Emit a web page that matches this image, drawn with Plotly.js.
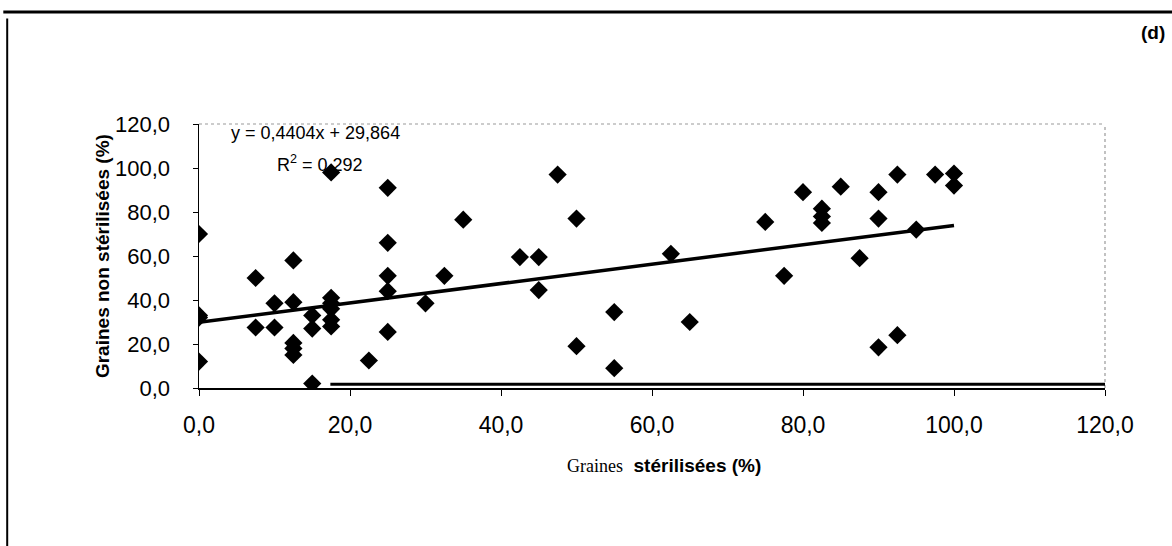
<!DOCTYPE html>
<html>
<head>
<meta charset="utf-8">
<script src="https://cdn.plot.ly/plotly-3.0.1.min.js"></script>
<style>html,body{margin:0;padding:0;background:#fff;}#chart{width:1172px;height:546px;}</style>
</head>
<body>
<div id="chart"></div>
<script>
// Data: % germination, sterilized seeds (x) vs non-sterilized seeds (y)
const sterilisees = [0, 0, 0, 0, 7.5, 7.5, 10, 10, 12.5, 12.5, 12.5, 12.5, 12.5, 15, 15, 15,
  17.5, 17.5, 17.5, 17.5, 17.5, 17.5, 22.5, 25, 25, 25, 25, 25, 30, 32.5, 35,
  42.5, 45, 45, 47.5, 50, 50, 55, 55, 62.5, 65, 75, 77.5, 80, 82.5, 82.5, 82.5,
  85, 87.5, 90, 90, 90, 92.5, 92.5, 95, 97.5, 100, 100];
const nonSterilisees = [70, 33, 32, 12, 50, 27.5, 38.5, 27.5, 58, 39, 20.5, 18, 15, 33, 27, 2,
  41, 38.5, 36, 31, 28, 98, 12.5, 91, 66, 51, 44, 25.5, 38.5, 51, 76.5,
  59.5, 59.5, 44.5, 97, 77, 19, 34.5, 9, 61, 30, 75.5, 51, 89, 81.5, 78, 75,
  91.5, 59, 89, 77, 18.5, 97, 24, 72, 97, 97.5, 92];
const slope = 0.4404, intercept = 29.864, r2 = 0.292;
const trendX = [0, 100];
const trendY = trendX.map(v => slope * v + intercept);
const xTicks = [0, 20, 40, 60, 80, 100, 120];
const xTickLabels = ["0,0", "20,0", "40,0", "60,0", "80,0", "100,0", "120,0"];
const yTicks = [0, 20, 40, 60, 80, 100, 120];
const yTickLabels = ["0,0", "20,0", "40,0", "60,0", "80,0", "100,0", "120,0"];
const eqText = "y = 0,4404x + 29,864";
const r2Text = "R<sup>2</sup> = 0,292";

const traces = [
  {x: trendX, y: trendY, type: 'scatter', mode: 'lines', line: {color: '#000', width: 3.5}, hoverinfo: 'skip'},
  {x: sterilisees, y: nonSterilisees, type: 'scatter', mode: 'markers',
   marker: {symbol: 'diamond', size: 14, color: '#000'}}
];

const layout = {
  width: 1172, height: 546,
  margin: {l: 199, r: 67, t: 124, b: 158},
  paper_bgcolor: '#fff', plot_bgcolor: '#fff',
  showlegend: false,
  font: {family: 'Liberation Sans, Arial, sans-serif', color: '#000'},
  xaxis: {
    range: [0, 120], tickvals: xTicks, ticktext: xTickLabels,
    showgrid: false, zeroline: false, showline: true, linecolor: '#000', linewidth: 1.5,
    ticks: 'outside', ticklen: 6, tickcolor: '#000', tickwidth: 1, ticklabelstandoff: 10,
    tickfont: {size: 23, family: 'Liberation Sans, Arial, sans-serif'}
  },
  yaxis: {
    range: [0, 120], tickvals: yTicks, ticktext: yTickLabels,
    showgrid: false, zeroline: false, showline: true, linecolor: '#000', linewidth: 1.5,
    ticks: 'outside', ticklen: 5, tickcolor: '#000', tickwidth: 1, ticklabelstandoff: 18,
    tickfont: {size: 22, family: 'Liberation Sans, Arial, sans-serif'}
  },
  shapes: [
    // plot area border (top/right dotted grey)
    {type: 'line', xref: 'paper', yref: 'paper', x0: 0, x1: 1, y0: 1, y1: 1, line: {color: '#999', width: 1.2, dash: 'dot'}},
    {type: 'line', xref: 'paper', yref: 'paper', x0: 1, x1: 1, y0: 0, y1: 1, line: {color: '#999', width: 1.2, dash: 'dot'}},
    // thick segment of bottom axis
    {type: 'line', xref: 'paper', yref: 'paper', x0: 0.145, x1: 1, y0: 0.014, y1: 0.014, line: {color: '#000', width: 3}},
    // page frame
    {type: 'line', xref: 'paper', yref: 'paper', x0: -0.216, x1: 1.075, y0: 1.424, y1: 1.424, line: {color: '#000', width: 3}},
    {type: 'line', xref: 'paper', yref: 'paper', x0: -0.2117, x1: -0.2117, y0: -0.60, y1: 1.40, line: {color: '#000', width: 2}}
  ],
  annotations: [
    {xref: 'paper', yref: 'paper', x: 0.033, y: 1.01, xanchor: 'left', yanchor: 'top', showarrow: false,
     text: eqText, font: {size: 18, family: 'Liberation Sans, Arial, sans-serif'}},
    {xref: 'paper', yref: 'paper', x: 0.084, y: 0.90, xanchor: 'left', yanchor: 'top', showarrow: false,
     text: r2Text, font: {size: 18, family: 'Liberation Sans, Arial, sans-serif'}},
    {xref: 'paper', yref: 'paper', x: 0.513, y: -0.245, xanchor: 'center', yanchor: 'top', showarrow: false,
     text: '<span style="font-family:Liberation Serif, Times New Roman, serif;font-weight:normal;font-size:18px">Graines</span>  <b>stérilisées (%)</b>',
     font: {size: 19, family: 'Liberation Sans, Arial, sans-serif'}},
    {xref: 'paper', yref: 'paper', x: -0.107, y: 0.5, xanchor: 'center', yanchor: 'middle', showarrow: false, textangle: -90,
     text: '<b>Graines non stérilisées (%)</b>', font: {size: 19, family: 'Liberation Sans, Arial, sans-serif'}},
    {xref: 'paper', yref: 'paper', x: 1.068, y: 1.345, xanchor: 'right', yanchor: 'middle', showarrow: false,
     text: '<b>(d)</b>', font: {size: 19, family: 'Liberation Sans, Arial, sans-serif'}}
  ]
};

Plotly.newPlot('chart', traces, layout, {staticPlot: true, displayModeBar: false});
</script>
</body>
</html>
